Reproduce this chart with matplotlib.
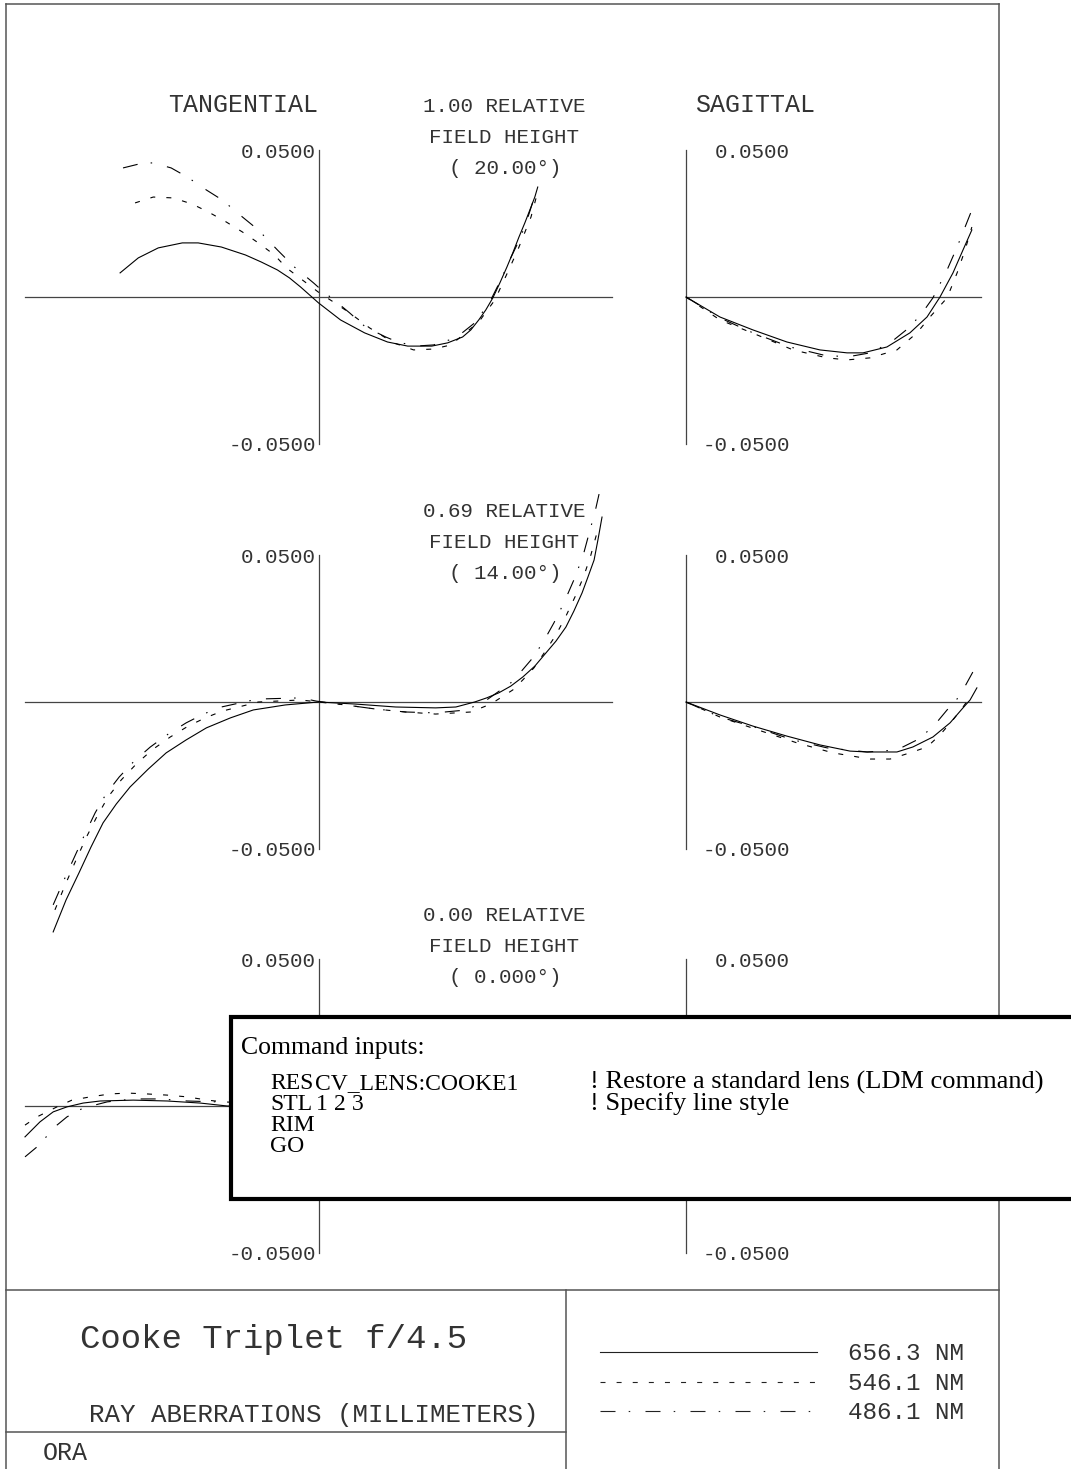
import matplotlib
matplotlib.use("Agg")
import matplotlib.pyplot as plt
from matplotlib.lines import Line2D
from matplotlib.patches import Rectangle

# ---- data: relative pupil coordinate (P) and ray error in mm (E) ----
# row 1 : 1.00 relative field, tangential
T1_656_P = [-0.676, -0.614, -0.546, -0.464, -0.410, -0.331, -0.249, -0.195, -0.140, -0.099, -0.061, 0.0, 0.075,
            0.157, 0.235, 0.304, 0.386, 0.440, 0.491, 0.519, 0.546, 0.570, 0.594, 0.618, 0.642, 0.662, 0.683,
            0.703, 0.724, 0.737, 0.747]
T1_656_E = [0.0082, 0.0133, 0.0167, 0.0184, 0.0184, 0.0170, 0.0143, 0.0119, 0.0092, 0.0065, 0.0034, -0.0020,
            -0.0078, -0.0122, -0.0153, -0.0167, -0.0167, -0.0156, -0.0136, -0.0112, -0.0078, -0.0044, -0.0003,
            0.0048, 0.0102, 0.0150, 0.0204, 0.0252, 0.0306, 0.0340, 0.0374]
T1_546_P = [-0.625, -0.563, -0.495, -0.430, -0.375, -0.314, -0.259, -0.205, -0.150, -0.109, -0.055, 0.003, 0.051,
            0.106, 0.174, 0.256, 0.324, 0.392, 0.451, 0.546, 0.601, 0.645, 0.679, 0.724, 0.744]
T1_546_E = [0.0320, 0.0340, 0.0337, 0.0316, 0.0289, 0.0255, 0.0221, 0.0184, 0.0143, 0.0099, 0.0058, 0.0014, -0.0017,
            -0.0054, -0.0105, -0.0156, -0.0180, -0.0177, -0.0163, -0.0085, -0.0010, 0.0085, 0.0160, 0.0272, 0.0347]
T1_486_P = [-0.666, -0.597, -0.563, -0.502, -0.447, -0.382, -0.328, -0.259, -0.205, -0.140, -0.082, -0.017, 0.010,
            0.065, 0.106, 0.160, 0.229, 0.270, 0.331, 0.392, 0.468, 0.536, 0.587, 0.621, 0.655, 0.689, 0.717, 0.741]
T1_486_E = [0.0439, 0.0456, 0.0456, 0.0439, 0.0408, 0.0364, 0.0330, 0.0272, 0.0228, 0.0160, 0.0102, 0.0048, 0.0024,
            -0.0020, -0.0054, -0.0102, -0.0136, -0.0153, -0.0167, -0.0163, -0.0139, -0.0085, -0.0010, 0.0058,
            0.0133, 0.0204, 0.0282, 0.0357]
# row 1 : sagittal
S1_656_P = [0, 0.115, 0.227, 0.342, 0.454, 0.546, 0.600, 0.681, 0.759, 0.817, 0.861, 0.905, 0.939, 0.969]
S1_656_E = [0, -0.0068, -0.0112, -0.0153, -0.0180, -0.0190, -0.0190, -0.0170, -0.0122, -0.0068, 0.0, 0.0082,
            0.0160, 0.0228]
S1_546_P = [0, 0.115, 0.241, 0.363, 0.478, 0.546, 0.624, 0.715, 0.783, 0.827, 0.885, 0.919, 0.946, 0.969]
S1_546_E = [0, -0.0078, -0.0129, -0.0180, -0.0207, -0.0214, -0.0207, -0.0180, -0.0122, -0.0068, -0.0003, 0.0082,
            0.0160, 0.0238]
S1_486_P = [0, 0.115, 0.227, 0.353, 0.464, 0.546, 0.624, 0.692, 0.759, 0.803, 0.837, 0.885, 0.919, 0.946, 0.969]
S1_486_E = [0, -0.0071, -0.0122, -0.0170, -0.0197, -0.0204, -0.0190, -0.0156, -0.0102, -0.0051, -0.0003, 0.0092,
            0.0170, 0.0238, 0.0296]

# row 2 : 0.69 relative field
T2_656_P = [-0.904, -0.860, -0.816, -0.775, -0.734, -0.689, -0.642, -0.580, -0.519, -0.451, -0.382, -0.300, -0.222,
            -0.113, 0.0, 0.126, 0.263, 0.399, 0.468, 0.532, 0.573, 0.614, 0.655, 0.696, 0.737, 0.775, 0.809,
            0.843, 0.870, 0.898, 0.918, 0.939, 0.952, 0.966]
T2_656_E = [-0.0782, -0.0673, -0.0581, -0.0493, -0.0411, -0.0347, -0.0289, -0.0228, -0.0173, -0.0129, -0.0088,
            -0.0054, -0.0027, -0.0010, 0.0, -0.0007, -0.0017, -0.0020, -0.0017, 0.0, 0.0014, 0.0031, 0.0054, 0.0085,
            0.0122, 0.0167, 0.0207, 0.0255, 0.0309, 0.0371, 0.0425, 0.0483, 0.0551, 0.0629]
T2_546_P = [-0.898, -0.863, -0.829, -0.792, -0.754, -0.717, -0.672, -0.621, -0.567, -0.505, -0.444, -0.386, -0.328,
            -0.205, -0.061, 0.0, 0.092, 0.195, 0.297, 0.399, 0.519, 0.587, 0.662, 0.696, 0.734, 0.771, 0.809,
            0.843, 0.877, 0.904, 0.928, 0.942, 0.956]
T2_546_E = [-0.0707, -0.0622, -0.0544, -0.0462, -0.0388, -0.0323, -0.0265, -0.0211, -0.0163, -0.0119, -0.0082,
            -0.0054, -0.0031, 0.0, 0.0007, 0.0, -0.0010, -0.0024, -0.0034, -0.0041, -0.0034, -0.0007, 0.0041,
            0.0075, 0.0116, 0.0170, 0.0228, 0.0292, 0.0364, 0.0428, 0.0500, 0.0551, 0.0602]
T2_486_P = [-0.904, -0.870, -0.836, -0.799, -0.761, -0.724, -0.679, -0.628, -0.573, -0.512, -0.451, -0.392, -0.331,
            -0.208, -0.061, -0.007, 0.092, 0.195, 0.297, 0.399, 0.505, 0.573, 0.655, 0.689, 0.724, 0.764, 0.802,
            0.836, 0.870, 0.901, 0.925, 0.942, 0.959]
T2_486_E = [-0.0690, -0.0612, -0.0537, -0.0456, -0.0377, -0.0313, -0.0255, -0.0201, -0.0153, -0.0109, -0.0071,
            -0.0041, -0.0017, 0.0010, 0.0014, 0.0003, -0.0010, -0.0024, -0.0034, -0.0037, -0.0027, 0.0007, 0.0065,
            0.0102, 0.0143, 0.0201, 0.0269, 0.0337, 0.0415, 0.0496, 0.0585, 0.0646, 0.0721]
S2_656_P = [0, 0.115, 0.227, 0.342, 0.454, 0.556, 0.614, 0.715, 0.769, 0.837, 0.895, 0.939, 0.963, 0.986]
S2_656_E = [0, -0.0044, -0.0082, -0.0116, -0.0146, -0.0167, -0.0170, -0.0170, -0.0153, -0.0119, -0.0071,
            -0.0020, 0.0007, 0.0048]
S2_546_P = [0, 0.115, 0.244, 0.376, 0.498, 0.624, 0.692, 0.759, 0.817, 0.861, 0.905, 0.939, 0.963]
S2_546_E = [0, -0.0051, -0.0095, -0.0139, -0.0173, -0.0194, -0.0194, -0.0173, -0.0153, -0.0112, -0.0061,
            -0.0017, 0.0017]
S2_486_P = [0, 0.115, 0.241, 0.363, 0.478, 0.614, 0.715, 0.783, 0.837, 0.885, 0.912, 0.939, 0.980]
S2_486_E = [0, -0.0051, -0.0088, -0.0129, -0.0156, -0.0170, -0.0163, -0.0129, -0.0085, -0.0027, 0.0, 0.0041,
            0.0116]

# row 3 : on axis (right part lies under the command box)
T3_656_P = [-1.0, -0.949, -0.904, -0.857, -0.802, -0.744, -0.631, -0.515, -0.403, -0.311, 0.0,
            0.311, 0.403, 0.515, 0.631, 0.744, 0.802, 0.857, 0.904, 0.949, 1.0]
T3_656_E = [-0.0105, -0.0054, -0.0020, -0.0003, 0.0010, 0.0017, 0.0020, 0.0017, 0.0010, 0.0, 0.0,
            0.0, -0.0010, -0.0017, -0.0020, -0.0017, -0.0010, 0.0003, 0.0020, 0.0054, 0.0105]
T3_546_P = [-1.0, -0.959, -0.891, -0.840, -0.778, -0.710, -0.652, -0.584, -0.515, -0.447, -0.379, -0.324, 0.0,
            0.324, 0.379, 0.447, 0.515, 0.584, 0.652, 0.710, 0.778, 0.840, 0.891, 0.959, 1.0]
T3_546_E = [-0.0065, -0.0037, -0.0003, 0.0020, 0.0031, 0.0041, 0.0044, 0.0041, 0.0037, 0.0031, 0.0020, 0.0014, 0.0,
            -0.0014, -0.0020, -0.0031, -0.0037, -0.0041, -0.0044, -0.0041, -0.0031, -0.0020, 0.0003, 0.0037, 0.0065]
T3_486_P = [-1.0, -0.959, -0.891, -0.857, -0.802, -0.720, -0.631, -0.539, -0.447, -0.345, 0.0,
            0.345, 0.447, 0.539, 0.631, 0.720, 0.802, 0.857, 0.891, 0.959, 1.0]
T3_486_E = [-0.0173, -0.0139, -0.0065, -0.0037, -0.0007, 0.0014, 0.0024, 0.0024, 0.0017, 0.0014, 0.0,
            -0.0014, -0.0017, -0.0024, -0.0024, -0.0014, 0.0007, 0.0037, 0.0065, 0.0139, 0.0173]
S3_656_P = [0, 0.311, 0.403, 0.515, 0.631, 0.744, 0.802, 0.857, 0.904, 0.949, 1.0]
S3_656_E = [0, 0.0, -0.0010, -0.0017, -0.0020, -0.0017, -0.0010, 0.0003, 0.0020, 0.0054, 0.0105]
S3_546_P = [0, 0.324, 0.447, 0.584, 0.710, 0.840, 0.891, 0.959, 1.0]
S3_546_E = [0, -0.0014, -0.0031, -0.0041, -0.0041, -0.0020, 0.0003, 0.0037, 0.0065]
S3_486_P = [0, 0.345, 0.447, 0.539, 0.631, 0.720, 0.802, 0.857, 0.891, 0.959, 1.0]
S3_486_E = [0, -0.0014, -0.0017, -0.0024, -0.0024, -0.0014, 0.0007, 0.0037, 0.0065, 0.0139, 0.0173]

WAVES = ["656.3 NM", "546.1 NM", "486.1 NM"]
FIELDS = ["1.00", "0.69", "0.00"]
ANGLES = ["20.00", "14.00", "0.000"]
TAN = [[(T1_656_P, T1_656_E), (T1_546_P, T1_546_E), (T1_486_P, T1_486_E)],
       [(T2_656_P, T2_656_E), (T2_546_P, T2_546_E), (T2_486_P, T2_486_E)],
       [(T3_656_P, T3_656_E), (T3_546_P, T3_546_E), (T3_486_P, T3_486_E)]]
SAG = [[(S1_656_P, S1_656_E), (S1_546_P, S1_546_E), (S1_486_P, S1_486_E)],
       [(S2_656_P, S2_656_E), (S2_546_P, S2_546_E), (S2_486_P, S2_486_E)],
       [(S3_656_P, S3_656_E), (S3_546_P, S3_546_E), (S3_486_P, S3_486_E)]]

# ---- drawing ----
plt.rcParams["lines.scale_dashes"] = False
plt.rcParams["font.family"] = "Liberation Mono"

W, H = 1071, 1469
fig = plt.figure(figsize=(W / 100, H / 100), dpi=100)


def fx(x):
    return x / W


def fy(y):
    return 1 - y / H


STYLES = ["-", (0, (3.6, 8.0)), (0, (10.8, 9.5, 1.1, 11.0))]
TXT = "#333333"
AXC = "#444444"
ROW_ZERO = [297, 702, 1106]
HALF = 147

for r, y0 in enumerate(ROW_ZERO):
    axt = fig.add_axes([fx(25), fy(y0 + HALF), 587 / W, 2 * HALF / H])
    axs = fig.add_axes([fx(686), fy(y0 + HALF), 295 / W, 2 * HALF / H])
    for ax, xl, curves in ((axt, (-1, 1), TAN[r]), (axs, (0, 1), SAG[r])):
        ax.set_xlim(*xl)
        ax.set_ylim(-0.05, 0.05)
        ax.axis("off")
        ax.axhline(0, color=AXC, lw=0.9, clip_on=False)
        ax.axvline(0, color=AXC, lw=0.9, clip_on=False)
        for (p, e), ls in zip(curves, STYLES):
            ax.plot(p, e, color="black", lw=0.8, linestyle=ls, clip_on=False)

    # scale labels
    fig.text(fx(316), fy(y0 - 139), "0.0500", ha="right", va="baseline", fontsize=15, color=TXT)
    fig.text(fx(316), fy(y0 + 154), "-0.0500", ha="right", va="baseline", fontsize=15, color=TXT)
    fig.text(fx(790), fy(y0 - 139), "0.0500", ha="right", va="baseline", fontsize=15, color=TXT)
    fig.text(fx(790), fy(y0 + 154), "-0.0500", ha="right", va="baseline", fontsize=15, color=TXT)
    # field label
    fig.text(fx(504), fy(y0 - 185), FIELDS[r] + " RELATIVE", ha="center", va="baseline", fontsize=15, color=TXT)
    fig.text(fx(504), fy(y0 - 154), "FIELD HEIGHT", ha="center", va="baseline", fontsize=15, color=TXT)
    fig.text(fx(505), fy(y0 - 123), "( " + ANGLES[r] + "\u00b0)", ha="center", va="baseline", fontsize=15, color=TXT)

fig.text(fx(243), fy(112), "TANGENTIAL", ha="center", va="baseline", fontsize=18, color=TXT)
fig.text(fx(755), fy(112), "SAGITTAL", ha="center", va="baseline", fontsize=18, color=TXT)

# frame
FR = "#555555"
for xs, ys in [((6, 999), (4, 4)), ((6, 6), (4, 1469)), ((999, 999), (4, 1469)),
               ((6, 999), (1290, 1290)), ((6, 566), (1432, 1432)), ((566, 566), (1290, 1469))]:
    fig.add_artist(Line2D([fx(xs[0]), fx(xs[1])], [fy(ys[0]), fy(ys[1])], color=FR, lw=1.1))

# title block
fig.text(fx(80), fy(1348), "Cooke Triplet f/4.5", ha="left", va="baseline", fontsize=24.5, color=TXT)
fig.text(fx(89), fy(1422), "RAY ABERRATIONS (MILLIMETERS)", ha="left", va="baseline", fontsize=18.6, color=TXT)
fig.text(fx(43), fy(1460), "ORA", ha="left", va="baseline", fontsize=18, color=TXT)

# legend
for i, (wave, ls) in enumerate(zip(WAVES, STYLES)):
    yl = [1352, 1382, 1411][i]
    fig.add_artist(Line2D([fx(600), fx(817)], [fy(yl), fy(yl)], color="#222222", lw=0.8, linestyle=ls))
    fig.text(fx(848), fy(yl + 8), wave, ha="left", va="baseline", fontsize=17.5, color=TXT)

# command box
fig.add_artist(Rectangle((fx(230.5), fy(1198.5)), fx(1080) - fx(230.5), fy(1017) - fy(1198.5),
                         transform=fig.transFigure, facecolor="white", edgecolor="black", lw=3.0, zorder=10))
SERIF = dict(family="Liberation Serif", color="black", va="baseline", ha="left", zorder=11)
fig.text(fx(241), fy(1054), "Command inputs:", fontsize=18.5, **SERIF)
fig.text(fx(270), fy(1089), "RES", fontsize=17, **SERIF)
fig.text(fx(315), fy(1089), "CV_LENS:COOKE1", fontsize=17, **SERIF)
fig.text(fx(590), fy(1089), "! Restore a standard lens (LDM command)", fontsize=19, **SERIF)
fig.text(fx(270), fy(1110), "STL", fontsize=17, **SERIF)
for x, s in [(316, "1"), (334, "2"), (352, "3")]:
    fig.text(fx(x), fy(1110), s, fontsize=17, **SERIF)
fig.text(fx(590), fy(1110), "! Specify line style", fontsize=19, **SERIF)
fig.text(fx(270), fy(1131), "RIM", fontsize=17, **SERIF)
fig.text(fx(270), fy(1152), "GO", fontsize=17, **SERIF)

fig.savefig("out.png", dpi=100, facecolor="white")
